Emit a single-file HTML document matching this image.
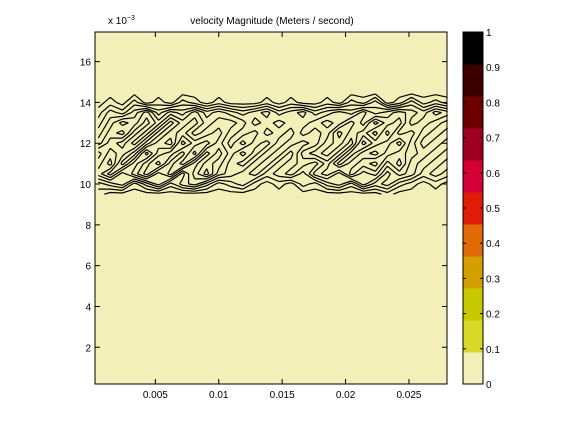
<!DOCTYPE html>
<html><head><meta charset="utf-8"><style>
body{margin:0;background:#fff;}
svg text{font-family:"Liberation Sans",sans-serif;font-size:10px;fill:#000;}
</style></head><body>
<svg id="c" width="576" height="432" xmlns="http://www.w3.org/2000/svg">
<rect x="0" y="0" width="576" height="432" fill="#fff"/>
<rect x="95" y="32" width="352" height="352" fill="#f2f0b8"/>
<g id="contours"></g>
<rect x="95" y="32" width="352" height="352" fill="none" stroke="#000" stroke-width="1"/>
<g id="axes"></g>
<text x="108" y="24" font-size="9">x 10<tspan dy="-4" font-size="7">−3</tspan></text>
<text x="272" y="24" text-anchor="middle" font-size="9.5">velocity Magnitude  (Meters / second)</text>
<g id="cbar"></g>
</svg>
<script>
const xTicks=[0.005,0.01,0.015,0.02,0.025];
const xTickLabels=["0.005","0.01","0.015","0.02","0.025"];
const yTicks=[2,4,6,8,10,12,14,16];
const cbTicks=[0,0.1,0.2,0.3,0.4,0.5,0.6,0.7,0.8,0.9,1];
const cbColors=["#f2f0b8","#d8d828","#c8c800","#d4a000","#e06a08","#e01c08","#d20034","#a00020","#6e0000","#3d0000","#000000"];
const gridY=[9.5,10,10.5,11,11.5,12,12.5,13,13.5,14,14.5];
const gridX0=0.0005, gridDX=0.00095;
const row0=[1,0,0,0,0,0,0,0,0,0,0,0,0,0,0,0,0,0,0,0,0,0,0,0,1,0,0,0,0,0];
const row1=[2,3,4,1,3,5,2,4,5,3,1,2,3,1,0,1,0,2,1,3,4,2,5,3,4,2,1,0,1,0];
const row2=[5,7,4,6,8,5,7,3,6,8,5,4,3,4,2,3,4,2,5,6,4,7,5,6,3,5,4,2,3,2];
const row3=[6,4,8,5,7,9,6,8,5,7,6,4,5,3,4,2,3,4,3,5,8,6,7,8,5,7,4,3,2,3];
const row4=[7,5,6,8,4,7,8,6,9,5,7,5,3,5,3,4,2,5,6,7,5,8,6,5,7,6,5,4,3,2];
const row5=[4,6,7,5,8,6,5,9,7,8,6,4,6,4,5,3,4,3,4,6,7,5,9,7,6,8,5,3,4,3];
const row6=[3,5,4,7,5,8,6,7,5,6,7,5,4,5,3,4,3,5,4,5,8,6,7,5,8,5,6,4,3,4];
const row7=[2,4,6,5,7,5,8,6,7,5,6,6,5,3,4,5,4,4,5,6,5,7,5,8,6,7,4,5,4,3];
const row8=[1,3,2,4,6,3,5,4,6,4,5,4,3,4,5,3,4,5,3,4,5,4,6,4,5,6,5,4,6,5];
const row9=[0,1,0,2,0,1,0,2,1,0,1,0,0,0,1,0,1,0,0,1,0,2,1,3,0,1,3,1,2,1];
const row10=[0,0,0,0,0,0,0,0,0,0,0,0,0,0,0,0,0,0,0,0,0,0,0,0,0,0,0,0,0,0];
const grid=[row0,row1,row2,row3,row4,row5,row6,row7,row8,row9,row10];
const levels=[0.5,1.5,2.5,3.5,4.5,5.5,6.5,7.5,8.5];

const L=95,R=447,T=32,B=384, xmin=0.00024,xmax=0.028, ymin=0.2,ymax=17.45;
const sx=v=>L+(v-xmin)/(xmax-xmin)*(R-L);
const sy=v=>B-(v-ymin)/(ymax-ymin)*(B-T);
const NS="http://www.w3.org/2000/svg";
function mk(tag,attrs,parent){const e=document.createElementNS(NS,tag);for(const k in attrs)e.setAttribute(k,attrs[k]);parent.appendChild(e);return e;}
const axes=document.getElementById('axes');
xTicks.forEach((v,i)=>{const x=sx(v);
 const t=mk('path',{d:`M${x} ${B}V${B-5}M${x} ${T}V${T+5}`,stroke:'#000'},axes);
 
 
 const l=mk('text',{x:x,y:B+14,'text-anchor':'middle'},axes);l.textContent=xTickLabels[i];
 
 });
yTicks.forEach(v=>{const y=sy(v);
 const t=mk('path',{d:`M${L} ${y}H${L+5}M${R} ${y}H${R-5}`,stroke:'#000'},axes);
 
 
 const l=mk('text',{x:L-4,y:y+4,'text-anchor':'end'},axes);l.textContent=v;
 
 });
const cg=document.getElementById('contours');
let d='';
const gx=j=>gridX0+j*gridDX;
for(const lv of levels){
 for(let i=0;i<grid.length-1;i++)for(let j=0;j<grid[0].length-1;j++){
  const p=[[gx(j),gridY[i],grid[i][j]],[gx(j+1),gridY[i],grid[i][j+1]],[gx(j+1),gridY[i+1],grid[i+1][j+1]],[gx(j),gridY[i+1],grid[i+1][j]]];
  const pts=[];
  for(let k=0;k<4;k++){const a=p[k],b=p[(k+1)%4];
   if((a[2]>lv)!==(b[2]>lv)){const t=(lv-a[2])/(b[2]-a[2]);pts.push([sx(a[0]+t*(b[0]-a[0])),sy(a[1]+t*(b[1]-a[1]))]);}}
  for(let k=0;k+1<pts.length;k+=2)d+=`M${pts[k][0].toFixed(1)} ${pts[k][1].toFixed(1)}L${pts[k+1][0].toFixed(1)} ${pts[k+1][1].toFixed(1)}`;
 }}
const cp=mk('path',{d:d,stroke:'#000','stroke-width':1.2,fill:'none'},cg);


const cb=document.getElementById('cbar');
const cL=463,cR=483,n=cbColors.length,h=(B-T)/n;
cbColors.forEach((c,i)=>{const r=mk('rect',{x:cL,y:B-(i+1)*h,width:cR-cL,height:h+0.5,fill:c},cb);
 
 });
mk('rect',{x:cL,y:T,width:cR-cL,height:B-T,fill:'none',stroke:'#000'},cb);
cbTicks.forEach(v=>{const y=B-v*(B-T);
 const t=mk('path',{d:`M${cL} ${y}H${cL+3}M${cR} ${y}H${cR-3}`,stroke:'#000'},cb);
 
 
 const l=mk('text',{x:cR+3,y:y+4},cb);l.textContent=v;
 
 });
</script>
</body></html>
